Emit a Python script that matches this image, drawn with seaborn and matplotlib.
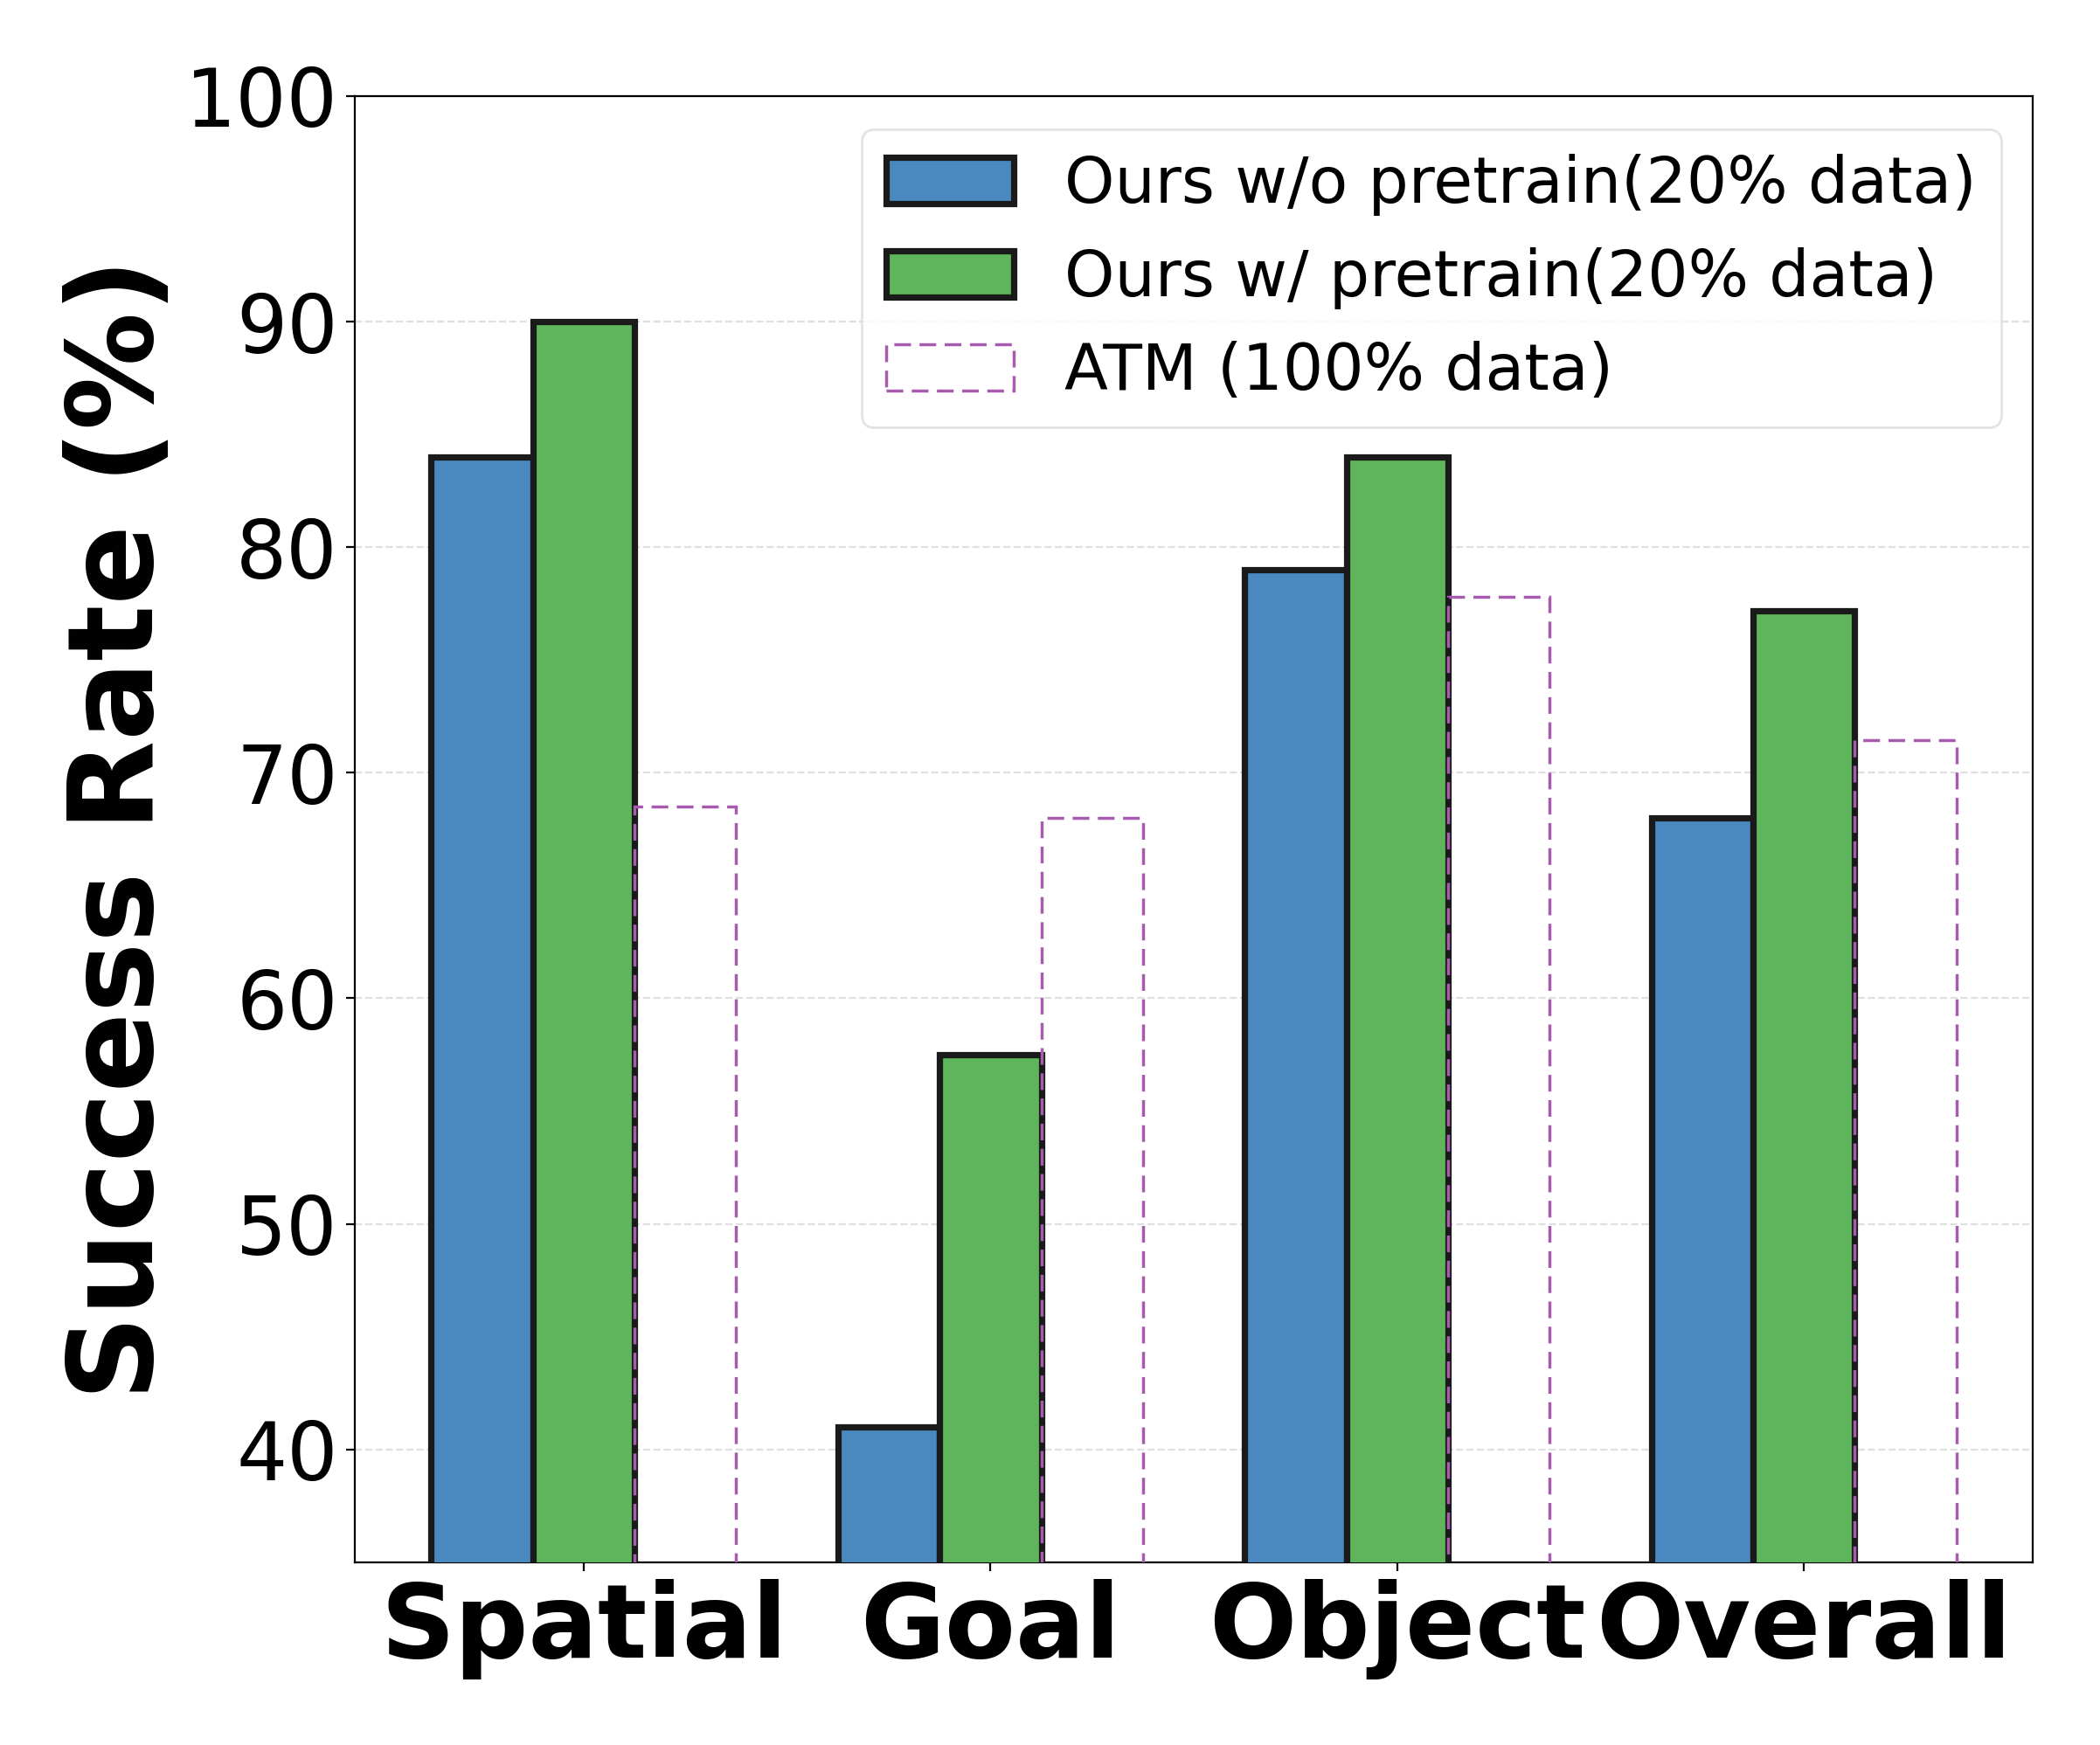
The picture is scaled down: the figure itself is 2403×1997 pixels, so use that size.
import matplotlib
matplotlib.use("Agg")
import matplotlib.pyplot as plt
import seaborn as sns
import pandas as pd

categories = ["Spatial", "Goal", "Object", "Overall"]
series_names = ["Ours w/o pretrain(20% data)", "Ours w/ pretrain(20% data)", "ATM (100% data)"]
ours_wo = [84.0, 41.0, 79.0, 68.0]
ours_w = [90.0, 57.5, 84.0, 77.17]
atm = [68.5, 68.0, 77.8, 71.43]
yticks = [40, 50, 60, 70, 80, 90, 100]

rows = []
for name, vals in zip(series_names, [ours_wo, ours_w, atm]):
    for c, v in zip(categories, vals):
        rows.append({"Task": c, "Method": name, "Success": v})
df = pd.DataFrame(rows)

plt.rcParams['font.family'] = ['DejaVu Sans']
fig = plt.figure(figsize=(12.015, 9.985), dpi=200)
ax = fig.add_axes([0.169, 0.1047, 0.799, 0.8403])

palette = {series_names[0]: "#4A89BF", series_names[1]: "#5EB55B", series_names[2]: "white"}
sns.barplot(data=df, x="Task", y="Success", hue="Method", hue_order=series_names,
            order=categories, palette=palette, width=0.75, ax=ax,
            saturation=1, errorbar=None, legend=False, zorder=3)

for i, cont in enumerate(ax.containers):
    for p in cont.patches:
        if i < 2:
            p.set_edgecolor("#1a1a1a")
            p.set_linewidth(2.6)
        else:
            p.set_facecolor("none")
            p.set_edgecolor("#A65BAE")
            p.set_linewidth(1.25)
            p.set_linestyle((0, (5.5, 2.8)))

ax.set_ylim(35, 100)
ax.set_xlim(-0.5625, 3.5625)
ax.set_yticks(yticks)
ax.tick_params(axis='y', labelsize=33)
ax.tick_params(axis='x', labelsize=42.5)
for lbl in ax.get_xticklabels():
    lbl.set_fontweight('bold')
ax.set_xlabel("")
ax.set_ylabel("Success Rate (%)", fontsize=48.5, fontweight='bold', labelpad=3)
ax.yaxis.grid(True, linestyle='--', color='#cccccc', alpha=0.6, linewidth=0.8)
ax.set_axisbelow(True)

leg = ax.legend(ax.containers, series_names, loc='upper right', fontsize=26.3,
                frameon=True, handlelength=2.0, handleheight=0.75, borderpad=0.38,
                labelspacing=0.49, handletextpad=0.8, borderaxespad=0,
                bbox_to_anchor=(0.981, 0.977))
leg.get_frame().set_edgecolor('#dddddd')

fig.savefig("out.png", dpi=200)
